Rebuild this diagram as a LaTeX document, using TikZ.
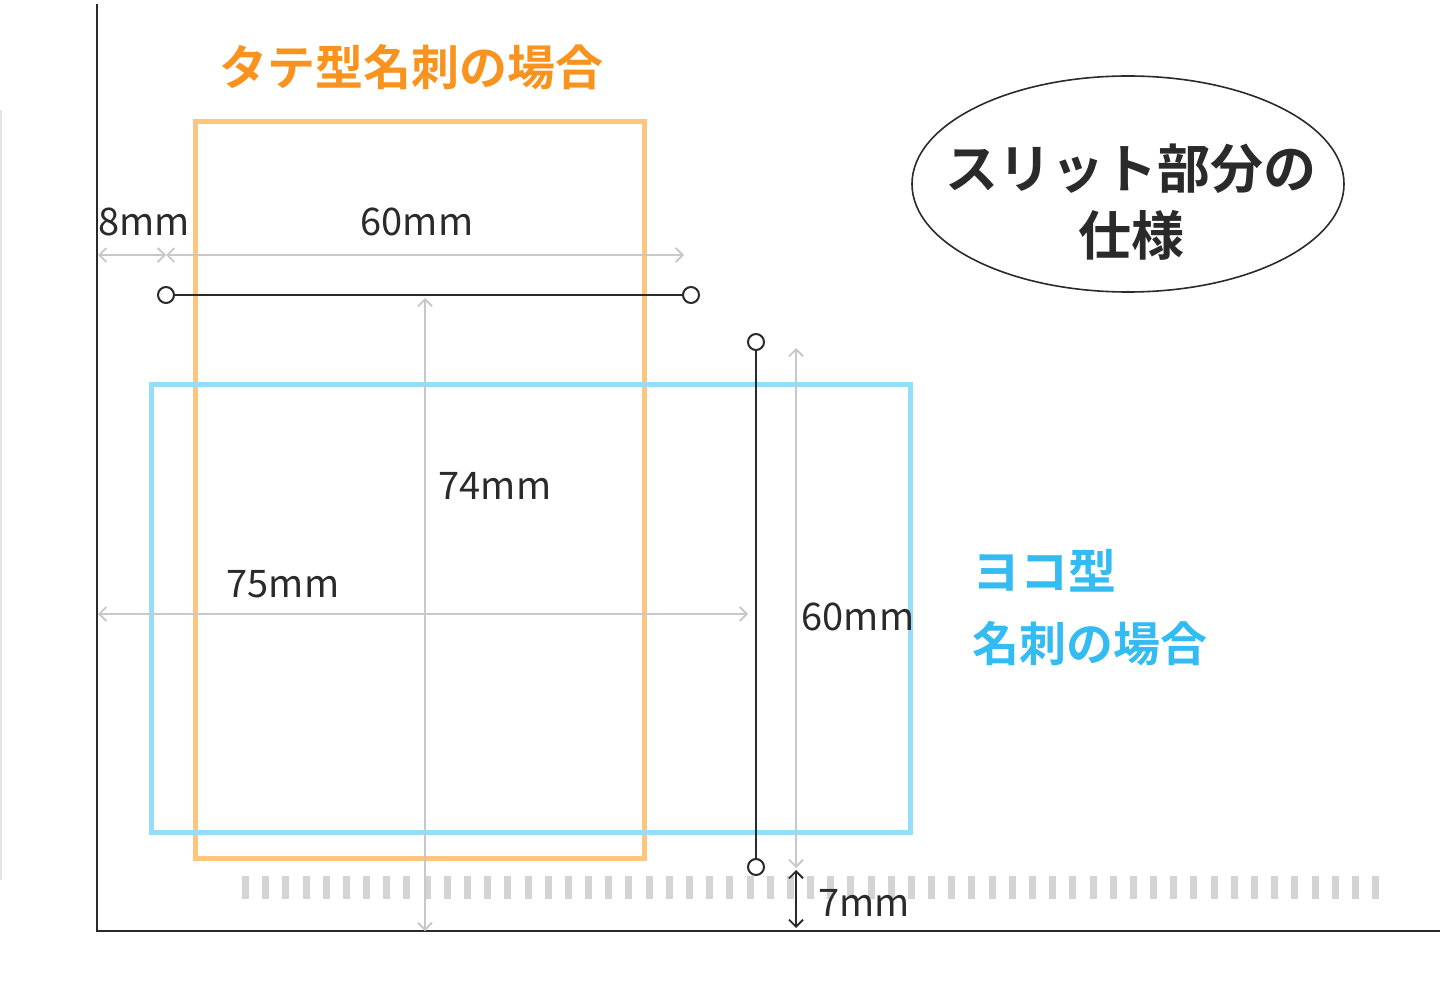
\documentclass[tikz,border=0pt]{standalone}
\usepackage{fontspec}
\setmainfont{Noto Sans CJK JP}
\newfontfamily\jpb{Noto Sans CJK JP}[BoldFont={Noto Sans CJK JP Bold}]
\usetikzlibrary{arrows.meta}
\definecolor{orangeT}{HTML}{F7931E}
\definecolor{orangeR}{HTML}{FDC67C}
\definecolor{blueT}{HTML}{33BBF2}
\definecolor{blueR}{HTML}{96DDF9}
\definecolor{dimgray}{HTML}{C8C8C8}
\definecolor{axisc}{HTML}{2A2A2A}
\definecolor{dashc}{HTML}{D4D4D4}
\tikzset{
  dimline/.style={draw=dimgray, line width=1.8pt, {Straight Barb[length=7pt,width=14pt]}-{Straight Barb[length=7pt,width=14pt]}},
  blkdim/.style={draw=axisc, line width=1.8pt, {Straight Barb[length=7pt,width=14pt]}-{Straight Barb[length=7pt,width=14pt]}},
  slit/.style={draw=axisc, line width=2pt},
  endpt/.style={circle, draw=axisc, line width=2pt, fill=white, minimum size=16pt, inner sep=0pt},
  dimlabel/.style={font=\fontsize{38}{40}\selectfont, text=axisc, anchor=base, inner sep=0pt},
  card/.style={line width=5pt},
}
\begin{document}
\begin{tikzpicture}[x=1pt,y=-1pt]
\useasboundingbox (0,0) rectangle (1440,1000);
% faint left line
\draw[draw=black!10, line width=2pt] (1,110) -- (1,880);
% slit dashes
\foreach \i in {0,...,56} {
  \fill[dashc] ({242+\i*20.18},876) rectangle ({249+\i*20.18},899);
}
% axes
\coordinate (ytop) at (97,4);
\coordinate (origin) at (97,931);
\coordinate (xend) at (1440,931);
\draw[axisc, line width=2.2pt] (ytop) -- (origin) -- (xend);
% cards
\draw[card, orangeR] (195,122) rectangle (644,858);
\draw[card, blueR] (151,384) rectangle (910,832);
% coordinates for dimensions
\coordinate (a8L) at (98,255);
\coordinate (a8R) at (166,255);
\coordinate (a60R) at (684,255);
\coordinate (a74T) at (425,298);
\coordinate (a74B) at (425,931);
\coordinate (a75L) at (98,614);
\coordinate (a75R) at (748,614);
\coordinate (a60vT) at (796,348);
\coordinate (a60vB) at (796,868);
\coordinate (a7T) at (796,870);
\coordinate (a7B) at (796,928);
% gray dimension arrows
\draw[dimline] (a8L) -- (a8R);
\draw[dimline] (a8R) -- (a60R);
\draw[dimline] (a74T) -- (a74B);
\draw[dimline] (a75L) -- (a75R);
\draw[dimline] (a60vT) -- (a60vB);
% 7mm black arrow
\draw[blkdim] (a7T) -- (a7B);
% slits
\node[endpt] (hL) at (166,295) {};
\node[endpt] (hR) at (691,295) {};
\draw[slit] (hL) -- (hR);
\node[endpt] (vT) at (756,342) {};
\node[endpt] (vB) at (756,867) {};
\draw[slit] (vT) -- (vB);
% labels
\node[dimlabel] (l8) at (144,236) {8mm};
\node[dimlabel] (l60) at (417,236) {60mm};
\node[dimlabel] (l74) at (495,499) {74mm};
\node[dimlabel] (l75) at (283,597) {75mm};
\node[dimlabel] (l60v) at (858,630) {60mm};
\node[dimlabel] (l7) at (864,916) {7mm};
% titles
\node[anchor=base west, inner sep=0pt, text=orangeT, font=\jpb\bfseries\fontsize{48}{50}\selectfont] (ttate) at (219,86) {タテ型名刺の場合};
\node[anchor=base west, inner sep=0pt, text=blueT, font=\jpb\bfseries\fontsize{48}{50}\selectfont] (tyoko1) at (972,589) {ヨコ型};
\node[anchor=base west, inner sep=0pt, text=blueT, font=\jpb\bfseries\fontsize{47}{50}\selectfont] (tyoko2) at (972,661) {名刺の場合};
% ellipse
\draw[axisc, line width=1.6pt] (1128,184) ellipse [x radius=216, y radius=108];
\node[anchor=base, inner sep=0pt, text=axisc, font=\jpb\bfseries\fontsize{53}{55}\selectfont] (s1) at (1131,189) {スリット部分の};
\node[anchor=base, inner sep=0pt, text=axisc, font=\jpb\bfseries\fontsize{53}{55}\selectfont] (s2) at (1131,256) {仕様};
\end{tikzpicture}
\end{document}
